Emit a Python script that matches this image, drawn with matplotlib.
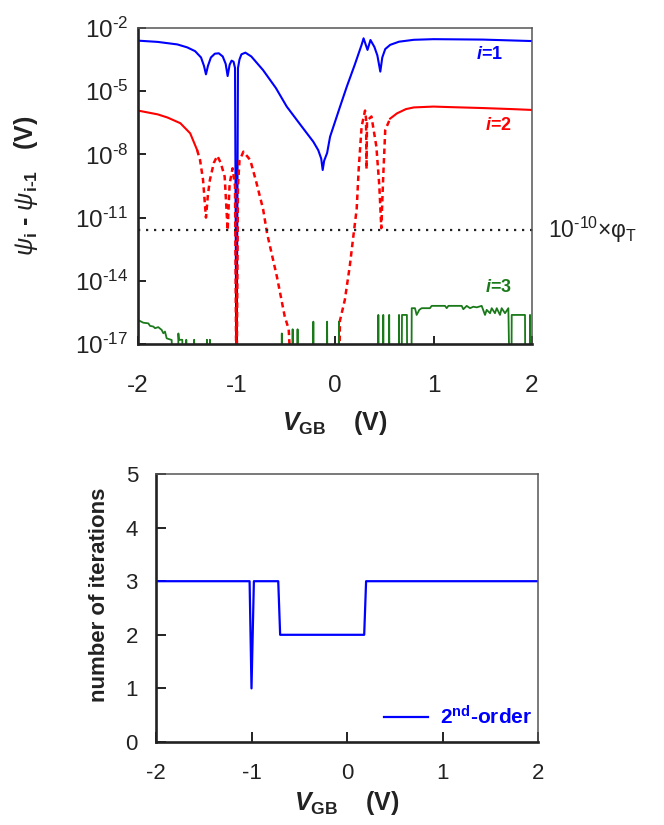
import numpy as np
import matplotlib
matplotlib.use('Agg')
import matplotlib.pyplot as plt
from matplotlib.ticker import FuncFormatter, NullLocator

plt.rcParams['font.family'] = ['Liberation Sans', 'DejaVu Sans']
plt.rcParams['mathtext.fontset'] = 'custom'
plt.rcParams['mathtext.rm'] = 'Liberation Sans'
plt.rcParams['mathtext.sf'] = 'Liberation Sans'
plt.rcParams['mathtext.it'] = 'Liberation Sans:italic'
plt.rcParams['mathtext.bf'] = 'Liberation Sans:bold'
plt.rcParams['mathtext.bfit'] = 'Liberation Sans:italic:bold'

BLUE = '#0000ff'
RED = '#ff0000'
GREEN = '#1a7a1a'
INK = '#222222'
HY = '\u2010'  # short hyphen used in exponents and subscripts

# ---- upper panel: successive potential updates, log10 of |psi_i - psi_(i-1)| in V
# (-20 means the update is exactly zero, i.e. below the plotted range)
v_i1 = [-2.0, -1.8, -1.6, -1.5, -1.42, -1.36, -1.33, -1.31, -1.29, -1.26, -1.22,
        -1.18, -1.14, -1.11, -1.09, -1.07, -1.05, -1.03, -1.015, -1.0, -0.985,
        -0.97, -0.95, -0.91, -0.85, -0.73, -0.6, -0.49, -0.35, -0.22, -0.17,
        -0.14, -0.125, -0.11, -0.08, -0.05, 0.05, 0.12, 0.2, 0.27, 0.29, 0.33,
        0.36, 0.40, 0.43, 0.46, 0.48, 0.51, 0.56, 0.65, 0.8, 1.0, 1.5, 2.0]
dec_i1 = [-2.60, -2.66, -2.78, -2.92, -3.1, -3.4, -3.8, -4.2, -3.8, -3.4, -3.22,
          -3.2, -3.35, -3.7, -4.28, -3.75, -3.55, -3.6, -3.9, -20, -3.9,
          -3.5, -3.25, -3.17, -3.35, -4.0, -4.85, -5.73, -6.6, -7.40, -7.8,
          -8.2, -8.74, -8.3, -7.93, -7.16, -5.75, -4.78, -3.75, -2.8, -2.49, -3.04,
          -2.57, -2.9, -3.3, -4.07, -3.4, -3.0, -2.8, -2.65, -2.56, -2.53, -2.55, -2.62]

# second update: solid where it is well resolved, dashed in the noisy middle part
v_i2_left = [-2.0, -1.8, -1.7, -1.57, -1.47, -1.40]
dec_i2_left = [-5.92, -6.1, -6.25, -6.52, -7.0, -7.79]
v_i2_mid = [-1.40, -1.37, -1.34, -1.31, -1.29, -1.27, -1.23, -1.195, -1.16, -1.12,
            -1.09, -1.07, -1.04, -1.015, -1.0, -0.985, -0.97, -0.93, -0.86, -0.80,
            -0.73, -0.69, -0.59, -0.51, -0.47, -0.43, 0.04, 0.05, 0.10, 0.15,
            0.19, 0.22, 0.24, 0.27, 0.305, 0.315, 0.32, 0.325, 0.37, 0.42,
            0.45, 0.47, 0.49, 0.51, 0.56]
dec_i2_mid = [-7.79, -8.27, -9.2, -11.0, -9.9, -9.21, -8.4, -8.07, -8.4, -9.06,
              -11.6, -9.4, -8.66, -9.5, -20, -9.5, -8.3, -7.87, -8.27, -9.3,
              -10.6, -11.74, -13.8, -15.7, -16.3, -20, -20, -15.9, -14.9, -13.3,
              -11.74, -10.6, -8.74, -6.68, -5.92, -6.3, -8.7, -6.4, -6.2, -7.63,
              -9.5, -11.5, -9.0, -6.84, -6.3]
v_i2_right = [0.56, 0.63, 0.72, 0.80, 1.0, 1.13, 1.5, 1.8, 2.0]
dec_i2_right = [-6.3, -6.05, -5.85, -5.77, -5.73, -5.75, -5.8, -5.85, -5.89]

# third update: round-off level noise
v_i3 = [-2.0, -1.946, -1.895, -1.878, -1.845, -1.827, -1.794, -1.76, -1.743, -1.726,
        -1.709, -1.658, -1.648,
        -1.595, -1.59, -1.585, -1.55, -1.545, -1.515, -1.51, -1.505, -1.435, -1.43,
        -1.425, -1.305, -1.30, -1.295, -1.275, -1.27, -1.265,
        -0.545, -0.54, -0.535, -0.435, -0.43, -0.425, -0.385, -0.38, -0.375,
        -0.225, -0.22, -0.215, -0.085, -0.08, -0.075, 0.035, 0.04, 0.045,
        0.435, 0.44, 0.445, 0.485, 0.49, 0.495, 0.545, 0.55, 0.555, 0.645, 0.65,
        0.655, 0.675, 0.68, 0.73, 0.735, 0.775, 0.779, 0.812, 0.829, 0.856, 0.880,
        0.964, 0.981, 1.117, 1.134, 1.151, 1.286, 1.303, 1.337, 1.371, 1.404,
        1.439, 1.489, 1.523, 1.540, 1.574, 1.591, 1.624, 1.642, 1.675, 1.692,
        1.726, 1.760, 1.777, 1.79, 1.794, 1.929, 1.933, 1.975, 1.98, 1.985]
dec_i3 = [-15.86, -15.99, -16.02, -16.14, -16.17, -16.25, -16.2, -16.33, -16.49, -16.41,
          -16.73, -16.81, -20,
          -20, -16.5, -16.8, -16.8, -20, -20, -16.8, -20, -20, -16.8,
          -20, -20, -16.8, -20, -20, -16.8, -20,
          -20, -16.5, -20, -20, -16.3, -20, -20, -16.3, -20,
          -20, -15.94, -20, -20, -15.94, -20, -20, -15.94, -20,
          -20, -15.62, -20, -20, -15.62, -20, -20, -15.62, -20, -20, -15.62,
          -20, -20, -15.62, -15.62, -20, -20, -15.30, -15.30, -15.62, -15.38, -15.30,
          -15.30, -15.19, -15.19, -15.30, -15.19, -15.19, -15.35, -15.19, -15.30, -15.23,
          -15.26, -15.19, -15.62, -15.38, -15.54, -15.30, -15.54, -15.30, -15.62, -15.30,
          -15.54, -15.30, -20, -20, -15.62, -15.62, -20, -20, -15.62, -20]

phi_T = 0.0259      # thermal voltage (V)
tol = 1e-10 * phi_T

# ---- lower panel: Newton iterations needed at each bias
v_iter = [-2.0, -1.02, -1.0, -0.975, -0.72, -0.70, 0.18, 0.20, 2.0]
n_iter = [3, 3, 1, 3, 3, 2, 2, 3, 3]


def decade_label(y, pos):
    e = int(round(np.log10(y)))
    sign = HY if e < 0 else ''
    return r'10$^{%s%d}$' % (sign, abs(e))


def style_axes(ax, labelsize, pad_x, pad_y, ticklen):
    for side in ('left', 'bottom'):
        ax.spines[side].set_linewidth(1.9)
        ax.spines[side].set_color(INK)
    for side in ('top', 'right'):
        ax.spines[side].set_linewidth(1.1)
        ax.spines[side].set_color('#555555')
    ax.tick_params(axis='both', which='major', direction='in', length=ticklen,
                   width=1.4, color=INK, labelsize=labelsize, labelcolor=INK)
    ax.tick_params(axis='x', pad=pad_x)
    ax.tick_params(axis='y', pad=pad_y)
    ax.tick_params(top=False, right=False)


fig = plt.figure(figsize=(6.64, 8.25), dpi=100)

ax1 = fig.add_axes([138 / 664, 1 - 344 / 825, 394 / 664, 316 / 825])
ax1.set_yscale('log')

ax1.plot(v_i1, 10.0 ** np.array(dec_i1), color=BLUE, lw=1.5)
ax1.plot(v_i2_left, 10.0 ** np.array(dec_i2_left), color=RED, lw=1.5)
ax1.plot(v_i2_mid, 10.0 ** np.array(dec_i2_mid), color=RED, lw=1.8,
         dashes=(2.2, 1.6))
ax1.plot(v_i2_right, 10.0 ** np.array(dec_i2_right), color=RED, lw=1.5)
ax1.plot(v_i3, 10.0 ** np.array(dec_i3), color=GREEN, lw=1.3)

# convergence tolerance
ax1.plot([-2.0, 2.04], [tol, tol], color=INK, lw=1.6, linestyle=(0, (1, 2.6)),
         clip_on=False)
ax1.text(2.16, tol, r'10$^{%s10}$×φ$_\mathrm{T}$' % HY, fontsize=16.5, color=INK,
         va='center', ha='left')

ax1.text(0.926, 0.915, r'$\mathbfit{i}$=1', transform=ax1.transAxes, color=BLUE,
         fontsize=13, fontweight='bold', ha='right', va='center')
ax1.text(0.949, 0.693, r'$\mathbfit{i}$=2', transform=ax1.transAxes, color=RED,
         fontsize=13, fontweight='bold', ha='right', va='center')
ax1.text(0.949, 0.180, r'$\mathbfit{i}$=3', transform=ax1.transAxes, color=GREEN,
         fontsize=13, fontweight='bold', ha='right', va='center')

ax1.set_xlim(-2, 2)
ax1.set_ylim(1e-17, 1e-2)
ax1.set_xticks([-2, -1, 0, 1, 2])
ax1.set_xticklabels(['-2', '-1', '0', '1', '2'])
ax1.set_yticks([1e-17, 1e-14, 1e-11, 1e-8, 1e-5, 1e-2])
ax1.yaxis.set_major_formatter(FuncFormatter(decade_label))
ax1.yaxis.set_minor_locator(NullLocator())
style_axes(ax1, 17.5, 22, 7, 6)

ax1.set_xlabel(r'$\mathbfit{V}_{\mathbf{GB}}$    (V)', fontsize=18,
               fontweight='bold', color=INK, labelpad=9)
ax1.set_ylabel(r'$\psi_{\mathbf{i}}$ - $\psi_{\mathbf{i%s1}}$   (V)' % HY,
               fontsize=18, fontweight='bold', color=INK)
ax1.yaxis.set_label_coords(-0.25, 0.5)

ax2 = fig.add_axes([156 / 664, 1 - 742 / 825, 382 / 664, 268 / 825])
ax2.plot(v_iter, n_iter, color=BLUE, lw=1.6, label=r'2$^{\mathbf{nd}}$-order')
ax2.set_xlim(-2, 2)
ax2.set_ylim(0, 5)
ax2.set_xticks([-2, -1, 0, 1, 2])
ax2.set_xticklabels(['-2', '-1', '0', '1', '2'])
ax2.set_yticks([0, 1, 2, 3, 4, 5])
style_axes(ax2, 16, 15, 13, 7)
ax2.set_xlabel(r'$\mathbfit{V}_{\mathbf{GB}}$    (V)', fontsize=18,
               fontweight='bold', color=INK, labelpad=4)
ax2.set_ylabel('number of iterations', fontsize=16, fontweight='bold', color=INK)
ax2.yaxis.set_label_coords(-0.12, 0.55)

leg = ax2.legend(loc='lower right', bbox_to_anchor=(0.985, 0.05), frameon=False,
                 prop={'size': 15, 'weight': 'bold'}, labelcolor=BLUE,
                 handlelength=2.1, handletextpad=0.6, borderaxespad=0,
                 borderpad=0)

fig.savefig('out.png', dpi=100)
